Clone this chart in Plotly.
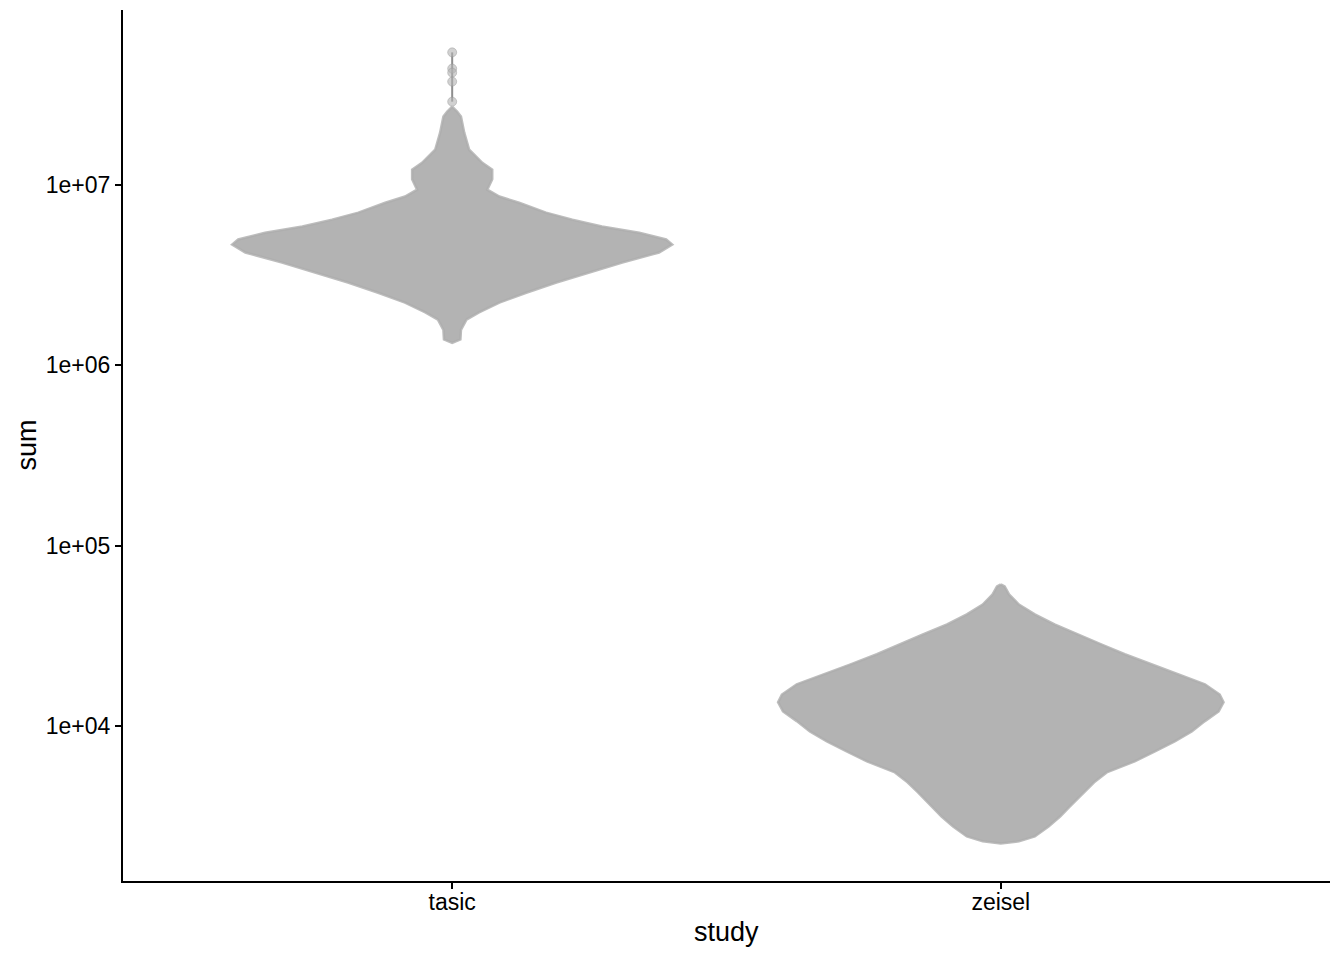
import numpy as np
import plotly.graph_objects as go

# ---- data (outline of each swarm) ----
studies = ["tasic", "zeisel"]

# tasic: isolated high points forming the spike
tasic_spike_sum = [5.40e7, 4.39e7, 4.17e7, 3.72e7, 2.88e7]

# tasic: swarm outline (sum value, half width in category units)
tasic_sum = [2.70e7, 2.54e7, 2.38e7, 1.94e7, 1.56e7, 1.32e7, 1.21e7, 1.07e7,
             9.38e6, 8.59e6, 7.94e6, 7.00e6, 6.40e6, 5.86e6, 5.42e6, 4.97e6,
             4.66e6, 4.21e6, 3.70e6, 3.26e6, 2.87e6, 2.52e6, 2.22e6, 1.96e6,
             1.79e6, 1.57e6, 1.39e6, 1.33e6]
tasic_half = [0.0, 0.009, 0.016, 0.022, 0.031, 0.055, 0.073, 0.073,
              0.064, 0.086, 0.122, 0.171, 0.219, 0.273, 0.341, 0.390,
              0.401, 0.377, 0.310, 0.250, 0.190, 0.135, 0.086, 0.049,
              0.026, 0.016, 0.015, 0.0]

# zeisel: swarm outline
zeisel_sum = [6.11e4, 5.96e4, 5.38e4, 4.73e4, 4.17e4, 3.67e4, 3.23e4, 2.84e4,
              2.51e4, 2.20e4, 1.94e4, 1.71e4, 1.50e4, 1.36e4, 1.21e4, 1.07e4,
              9.38e3, 8.26e3, 7.27e3, 6.40e3, 5.56e3, 4.90e3, 4.31e3, 3.61e3,
              3.17e3, 2.79e3, 2.46e3, 2.31e3, 2.25e3]
zeisel_half = [0.0, 0.007, 0.015, 0.033, 0.062, 0.098, 0.142, 0.184,
               0.226, 0.275, 0.324, 0.372, 0.399, 0.406, 0.397, 0.372,
               0.348, 0.317, 0.281, 0.244, 0.193, 0.170, 0.151, 0.126,
               0.108, 0.087, 0.062, 0.033, 0.0]

y_ticks = [1e4, 1e5, 1e6, 1e7]
y_tick_labels = ["1e+04", "1e+05", "1e+06", "1e+07"]

FILL = "#B3B3B3"
DOT = "rgba(179,179,179,0.6)"
DOT_EDGE = "rgba(150,150,150,0.45)"
FONT = "Liberation Sans, Arial, Helvetica, sans-serif"

fig = go.Figure()

def add_swarm(pos, sums, halves):
    s = np.array(sums, dtype=float)
    h = np.array(halves, dtype=float)
    xs = np.concatenate([pos - h, (pos + h)[::-1]])
    ys = np.concatenate([s, s[::-1]])
    fig.add_trace(go.Scatter(
        x=xs, y=ys, mode="lines", fill="toself", fillcolor=FILL,
        line=dict(color="rgba(172,172,172,0.8)", width=2.5),
        hoverinfo="skip", showlegend=False))

add_swarm(1, tasic_sum, tasic_half)
add_swarm(2, zeisel_sum, zeisel_half)

# tasic spike
fig.add_trace(go.Scatter(
    x=[1] * len(tasic_spike_sum), y=tasic_spike_sum, mode="lines+markers",
    line=dict(color="#8E8E8E", width=2),
    marker=dict(size=9, color=DOT, line=dict(color=DOT_EDGE, width=1)),
    hoverinfo="skip", showlegend=False))

# page body adds an 8px offset, so the figure is 8px smaller
fig.update_layout(
    width=1336, height=952,
    margin=dict(l=115, r=14, t=2, b=79),
    paper_bgcolor="white", plot_bgcolor="white",
    font=dict(family=FONT, color="black"),
    showlegend=False,
)
fig.update_xaxes(
    range=[0.4, 2.6], tickvals=[1, 2], ticktext=studies,
    showline=True, linecolor="black", linewidth=2,
    ticks="outside", ticklen=6, tickwidth=2, tickcolor="black",
    ticklabelstandoff=-7,
    showgrid=False, zeroline=False,
    tickfont=dict(size=23, color="black", family=FONT),
)
fig.update_yaxes(
    type="log", range=[3.144, 7.967],
    tickvals=y_ticks, ticktext=y_tick_labels,
    showline=True, linecolor="black", linewidth=2,
    ticks="outside", ticklen=6, tickwidth=2, tickcolor="black",
    showgrid=False, zeroline=False,
    tickfont=dict(size=23, color="black", family=FONT),
)
fig.add_annotation(text="study", xref="paper", yref="paper", x=0.5, y=0,
                   xanchor="center", yanchor="middle", yshift=-51,
                   showarrow=False, font=dict(size=27, family=FONT, color="black"))
fig.add_annotation(text="sum", xref="paper", yref="paper", x=0, y=0.5,
                   xanchor="center", yanchor="middle", xshift=-97, textangle=-90,
                   showarrow=False, font=dict(size=27, family=FONT, color="black"))

fig.write_html("out.html")
